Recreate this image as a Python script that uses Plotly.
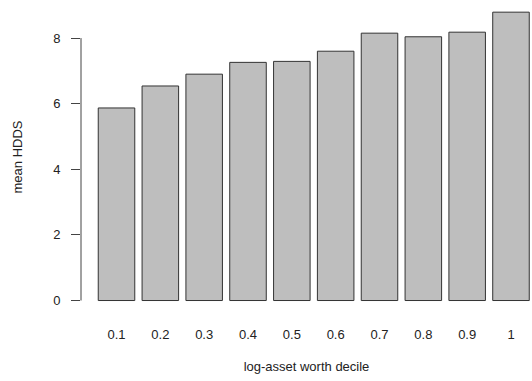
import plotly.graph_objects as go

deciles = ["0.1", "0.2", "0.3", "0.4", "0.5", "0.6", "0.7", "0.8", "0.9", "1"]
mean_hdds = [5.87, 6.54, 6.90, 7.26, 7.29, 7.60, 8.15, 8.04, 8.18, 8.79]
y_ticks = [0, 2, 4, 6, 8]

# R barplot positions: width 1, space 0.2
xpos = [0.7 + 1.2 * i for i in range(len(deciles))]

font = dict(family="Liberation Sans, Arial, sans-serif", size=13, color="#222222")

fig = go.Figure(go.Bar(
    x=xpos, y=mean_hdds, width=1.0,
    marker=dict(color="#BEBEBE", line=dict(color="#333333", width=1)),
))

fig.update_layout(
    width=532, height=381,
    margin=dict(l=81, r=0, t=2, b=69),
    paper_bgcolor="white", plot_bgcolor="white",
    showlegend=False, font=font,
    xaxis=dict(
        range=[-0.272, 12.075], showgrid=False, zeroline=False, showline=False,
        tickvals=xpos, ticktext=deciles, ticks="outside", ticklen=10,
        tickcolor="rgba(0,0,0,0)",
        title=dict(text="log-asset worth decile", standoff=21, font=font),
    ),
    yaxis=dict(
        range=[-0.35, 9.1], showgrid=False, zeroline=False, showline=False,
        tickvals=y_ticks, ticks="outside", ticklen=9, tickwidth=1,
        tickcolor="#444444", ticklabelstandoff=8,
        title=dict(text="mean HDDS", standoff=27, font=font),
    ),
    shapes=[dict(type="line", xref="paper", x0=0, x1=0, yref="y", y0=0, y1=8,
                 line=dict(color="#444444", width=1))],
)

fig.write_html("out.html")
